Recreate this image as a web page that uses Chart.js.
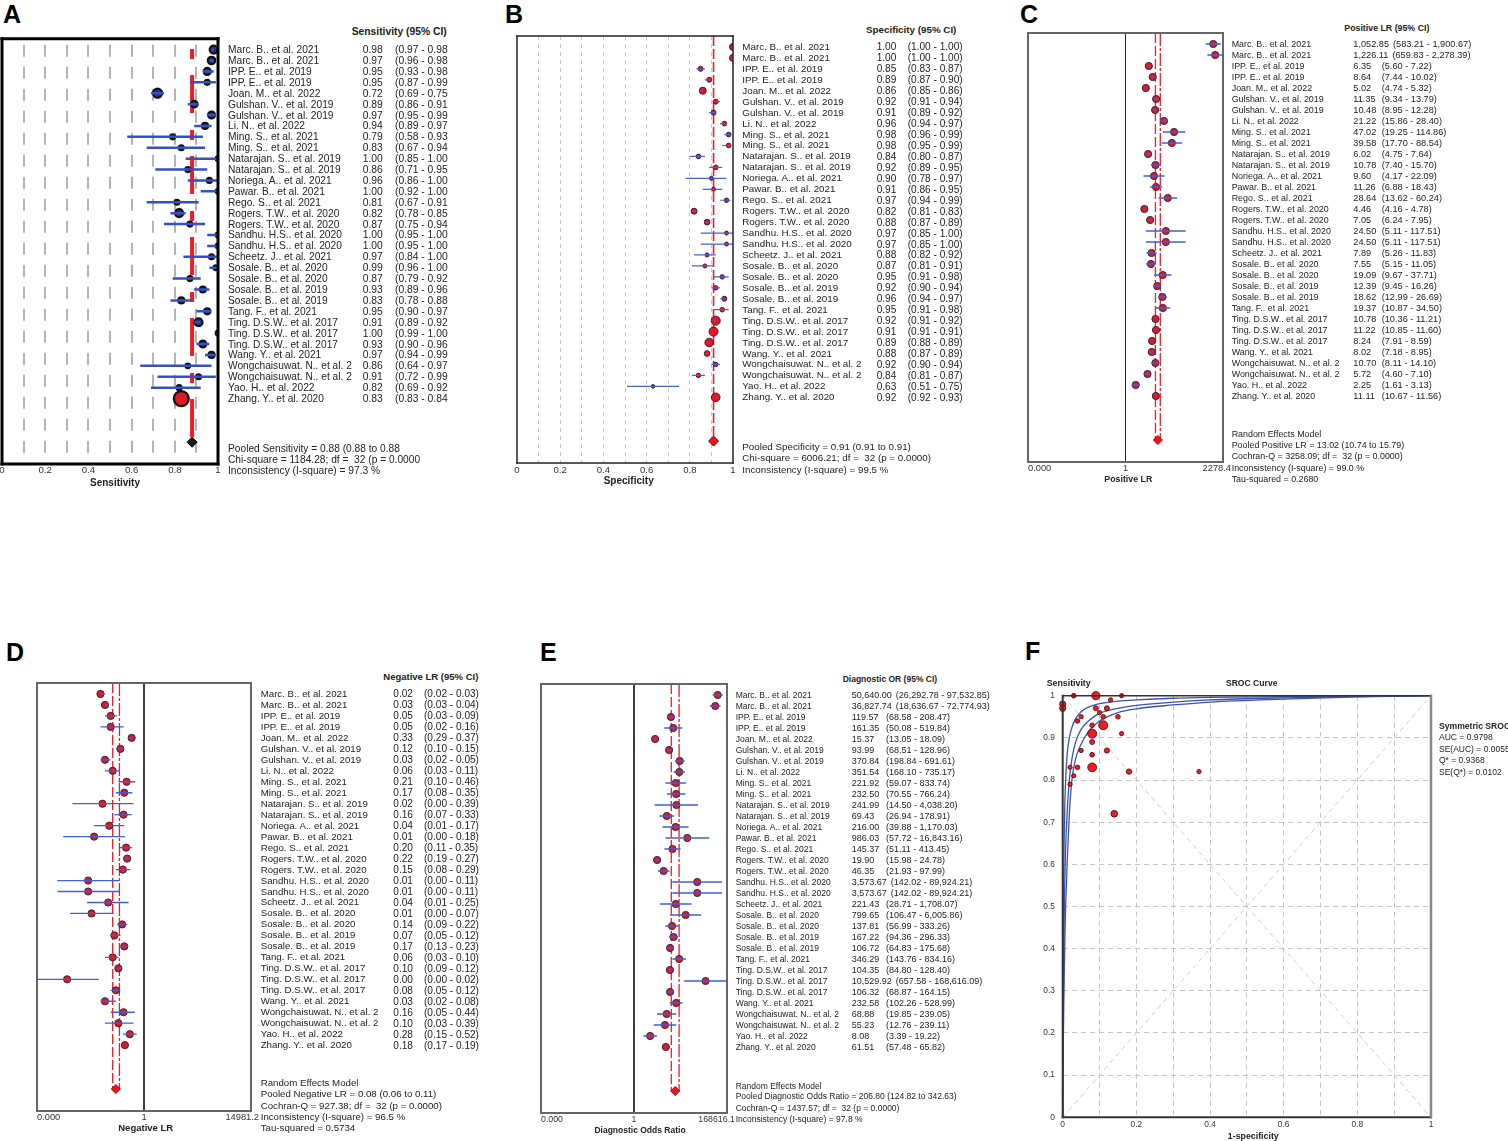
<!DOCTYPE html>
<html><head><meta charset="utf-8">
<script src="https://cdn.jsdelivr.net/npm/chart.js@4.4.1/dist/chart.umd.min.js"></script>
<style>
html,body{margin:0;padding:0;background:#fff;}
body{width:1508px;height:1141px;overflow:hidden;position:relative;font-family:"Liberation Sans",Arial,Helvetica,sans-serif;color:#222;}
canvas{position:absolute;}
.t{position:absolute;white-space:pre;}
</style></head><body>
<script>
// ---------------- DATA ----------------
const studies = ["Marc. B.. et al. 2021","Marc. B.. et al. 2021","IPP. E.. et al. 2019","IPP. E.. et al. 2019","Joan. M.. et al. 2022","Gulshan. V.. et al. 2019","Gulshan. V.. et al. 2019","Li. N.. et al. 2022","Ming. S.. et al. 2021","Ming. S.. et al. 2021","Natarajan. S.. et al. 2019","Natarajan. S.. et al. 2019","Noriega. A.. et al. 2021","Pawar. B.. et al. 2021","Rego. S.. et al. 2021","Rogers. T.W.. et al. 2020","Rogers. T.W.. et al. 2020","Sandhu. H.S.. et al. 2020","Sandhu. H.S.. et al. 2020","Scheetz. J.. et al. 2021","Sosale. B.. et al. 2020","Sosale. B.. et al. 2020","Sosale. B.. et al. 2019","Sosale. B.. et al. 2019","Tang. F.. et al. 2021","Ting. D.S.W.. et al. 2017","Ting. D.S.W.. et al. 2017","Ting. D.S.W.. et al. 2017","Wang. Y.. et al. 2021","Wongchaisuwat. N.. et al. 2","Wongchaisuwat. N.. et al. 2","Yao. H.. et al. 2022","Zhang. Y.. et al. 2020"];

const sens   = [0.98,0.97,0.95,0.95,0.72,0.89,0.97,0.94,0.79,0.83,1.00,0.86,0.96,1.00,0.81,0.82,0.87,1.00,1.00,0.97,0.99,0.87,0.93,0.83,0.95,0.91,1.00,0.93,0.97,0.86,0.91,0.82,0.83];
const sensLo = [0.97,0.96,0.93,0.87,0.69,0.86,0.95,0.89,0.58,0.67,0.85,0.71,0.86,0.92,0.67,0.78,0.75,0.95,0.95,0.84,0.96,0.79,0.89,0.78,0.90,0.89,0.99,0.90,0.94,0.64,0.72,0.69,0.83];
const sensHi = [0.98,0.98,0.98,0.99,0.75,0.91,0.99,0.97,0.93,0.94,1.00,0.95,1.00,1.00,0.91,0.85,0.94,1.00,1.00,1.00,1.00,0.92,0.96,0.88,0.97,0.92,1.00,0.96,0.99,0.97,0.99,0.92,0.84];

const spec   = [1.00,1.00,0.85,0.89,0.86,0.92,0.91,0.96,0.98,0.98,0.84,0.92,0.90,0.91,0.97,0.82,0.88,0.97,0.97,0.88,0.87,0.95,0.92,0.96,0.95,0.92,0.91,0.89,0.88,0.92,0.84,0.63,0.92];
const specLo = [1.00,1.00,0.83,0.87,0.85,0.91,0.89,0.94,0.96,0.95,0.80,0.89,0.78,0.86,0.94,0.81,0.87,0.85,0.85,0.82,0.81,0.91,0.90,0.94,0.91,0.91,0.91,0.88,0.87,0.90,0.81,0.51,0.92];
const specHi = [1.00,1.00,0.87,0.90,0.86,0.94,0.92,0.97,0.99,0.99,0.87,0.95,0.97,0.95,0.99,0.83,0.89,1.00,1.00,0.92,0.91,0.98,0.94,0.97,0.98,0.92,0.91,0.89,0.89,0.94,0.87,0.75,0.93];

const plr   = [1052.85,1226.11,6.35,8.64,5.02,11.35,10.48,21.22,47.02,39.58,6.02,10.78,9.60,11.26,28.64,4.46,7.05,24.50,24.50,7.89,7.55,19.09,12.39,18.62,19.37,10.78,11.22,8.24,8.02,10.70,5.72,2.25,11.11];
const plrLo = [583.21,659.83,5.60,7.44,4.74,9.34,8.95,15.86,19.25,17.70,4.75,7.40,4.17,6.88,13.62,4.16,6.24,5.11,5.11,5.26,5.15,9.67,9.45,12.99,10.87,10.36,10.85,7.91,7.18,8.11,4.60,1.61,10.67];
const plrHi = [1900.67,2278.39,7.22,10.02,5.32,13.79,12.28,28.40,114.86,88.54,7.64,15.70,22.09,18.43,60.24,4.78,7.95,117.51,117.51,11.83,11.05,37.71,16.26,26.69,34.50,11.21,11.60,8.59,8.95,14.10,7.10,3.13,11.56];

const nlr   = [0.02,0.03,0.05,0.05,0.33,0.12,0.03,0.06,0.21,0.17,0.024,0.16,0.044,0.0113,0.20,0.22,0.15,0.0066,0.0066,0.04,0.009,0.14,0.07,0.17,0.06,0.10,0.001,0.08,0.03,0.16,0.10,0.28,0.18];
const nlrLo = [0.02,0.03,0.03,0.02,0.29,0.10,0.02,0.03,0.10,0.08,0.0016,0.07,0.011,0.0007,0.11,0.19,0.08,0.00042,0.00042,0.006,0.0013,0.09,0.05,0.13,0.03,0.09,0.00003,0.05,0.02,0.05,0.03,0.15,0.17];
const nlrHi = [0.03,0.04,0.09,0.16,0.37,0.15,0.05,0.11,0.46,0.35,0.39,0.33,0.17,0.18,0.35,0.27,0.29,0.108,0.108,0.25,0.066,0.22,0.12,0.23,0.10,0.12,0.0174,0.12,0.08,0.44,0.39,0.52,0.19];

const dor   = [50640.00,36827.74,119.57,161.35,15.37,93.99,370.84,351.54,221.92,232.50,241.99,69.43,216.00,986.03,145.37,19.90,46.35,3573.67,3573.67,221.43,799.65,137.81,167.22,106.72,346.29,104.35,10529.92,106.32,232.58,68.88,55.23,8.08,61.51];
const dorLo = [26292.78,18636.67,68.58,50.08,13.05,68.51,198.84,168.10,59.07,70.55,14.50,26.94,39.88,57.72,51.11,15.98,21.93,142.02,142.02,28.71,106.47,56.99,94.36,64.83,143.76,84.80,657.58,68.87,102.26,19.85,12.76,3.39,57.48];
const dorHi = [97532.85,72774.93,208.47,519.84,18.09,128.96,691.61,735.17,833.74,766.24,4038.20,178.91,1170.03,16843.16,413.45,24.78,97.99,89924.21,89924.21,1708.07,6005.86,333.26,296.33,175.68,834.16,128.40,168616.09,164.15,528.99,239.05,239.11,19.22,65.82];

// relative study weights
const sensWeight = [4.5,4.0,3.6,1.8,5.5,3.3,3.6,2.7,1.8,1.8,1.5,1.8,1.8,1.5,1.8,4.5,1.8,1.5,1.5,1.8,1.5,1.8,2.7,2.7,2.7,4.5,1.5,3.6,2.7,1.5,1.8,1.8,10.9];
const specWeight = [3.6,3.6,1.8,1.8,3.6,1.8,1.8,1.5,1.5,1.5,1.5,1.5,0.9,0.9,1.3,2.7,2.4,0.9,0.9,0.9,0.9,1.3,1.3,1.8,1.5,5.5,5.5,5.1,2.4,1.3,1.3,0.5,5.1];
const rocWeight  = [2.9,2.9,1.5,1.5,3.4,1.8,1.8,1.5,1.2,1.2,1.2,1.2,1.2,1.2,1.2,2.2,2.0,1.2,1.2,1.2,1.2,1.2,1.5,1.5,1.2,5.5,4.8,5.5,1.8,1.2,1.2,1.2,5.3];

// pooled estimates [estimate, lower, upper]
const pooledSens = [0.88,0.88,0.88];
const pooledSpec = [0.91,0.91,0.91];
const pooledPlr  = [13.02,10.74,15.79];
const pooledNlr  = [0.08,0.06,0.11];
const pooledDor  = [206.80,124.82,342.63];

// axis limits / ticks
const linTicks = [0,0.1,0.2,0.3,0.4,0.5,0.6,0.7,0.8,0.9,1];
const plrAxisMax = 2278.4, nlrAxisMax = 14981.2, dorAxisMax = 168616.1;

// SROC curves
const srocFpr   = [0,0.001,0.002,0.004,0.006,0.008,0.012,0.018,0.025,0.035,0.05,0.07,0.1,0.15,0.2,0.3,0.4,0.6,0.8,1];
const srocUpper = [0,0.33,0.5,0.66,0.75,0.8,0.86,0.9,0.925,0.945,0.962,0.973,0.981,0.987,0.99,0.994,0.996,0.998,0.999,1];
const srocMid   = [0,0.18,0.3,0.47,0.57,0.64,0.72,0.8,0.85,0.89,0.92,0.94,0.958,0.97,0.977,0.985,0.99,0.995,0.998,1];
const srocLower = [0,0.12,0.2,0.33,0.43,0.5,0.6,0.72,0.8,0.85,0.885,0.915,0.94,0.96,0.969,0.978,0.985,0.992,0.997,1];
const chanceX = [0,1], chanceUp = [0,1], chanceDown = [1,0];

// ---------------- HELPERS ----------------
const FAM = '"Liberation Sans", Arial, Helvetica, sans-serif';
Chart.defaults.font.family = FAM;

function T(str, x, cy, fs, o){
  o = o || {};
  const d = document.createElement('div'); d.className = 't'; d.textContent = str;
  const L = Math.round(fs*1.25);
  d.style.left = x+'px'; d.style.top = (cy - L/2)+'px';
  d.style.fontSize = fs+'px'; d.style.lineHeight = L+'px';
  if (o.b) d.style.fontWeight = 'bold';
  if (o.c) d.style.color = o.c;
  if (o.a === 'c') d.style.transform = 'translateX(-50%)';
  if (o.a === 'r') d.style.transform = 'translateX(-100%)';
  document.body.appendChild(d); return d;
}
function rowText(x, cy, fs, val, ci, minW){
  const d = T('', x, cy, fs);
  const a = document.createElement('span'); a.textContent = val;
  a.style.cssText = 'display:inline-block;min-width:'+minW+'px;margin-right:4px;';
  const b = document.createElement('span'); b.textContent = ci;
  d.append(a, b);
}
function mk(l,t,w,h){
  const c = document.createElement('canvas');
  c.width = w; c.height = h;
  c.style.left = l+'px'; c.style.top = t+'px'; c.style.width = w+'px'; c.style.height = h+'px';
  document.body.appendChild(c); return c;
}
const f2 = v => v.toFixed(2);
const fc = v => v.toLocaleString('en-US',{minimumFractionDigits:2,maximumFractionDigits:2});
const radiusOf = w => 1.5 + 0.55*w;

const boxPlugin = {
  id:'boxp',
  afterDatasetsDraw(chart, args, o){
    const a = chart.chartArea, c = chart.ctx;
    c.save();
    const sides = o.sides || [{s:'l'},{s:'r'},{s:'t'},{s:'b'}];
    sides.forEach(sd => {
      c.beginPath(); c.strokeStyle = sd.color || o.color; c.lineWidth = sd.width || o.width; c.lineCap='square';
      if (sd.s==='l'){c.moveTo(a.left,a.top);c.lineTo(a.left,a.bottom);}
      if (sd.s==='r'){c.moveTo(a.right,a.top);c.lineTo(a.right,a.bottom);}
      if (sd.s==='t'){c.moveTo(a.left,a.top);c.lineTo(a.right,a.top);}
      if (sd.s==='b'){c.moveTo(a.left,a.bottom);c.lineTo(a.right,a.bottom);}
      c.stroke();
    });
    c.restore();
  }
};

function linX(axisH, gc, gw, dash, off, fs, pad){
  return {type:'linear', min:0, max:1,
    afterFit: s => { s.height = axisH; },
    afterBuildTicks: s => { s.ticks = linTicks.map(v => ({value:v})); },
    grid:{color: c => (c.tick && (c.tick.value===0 || c.tick.value===1)) ? 'rgba(0,0,0,0)' : gc, lineWidth:gw, drawTicks:false},
    border:{display:false, dash:dash, dashOffset:off},
    ticks:{autoSkip:false, maxRotation:0, padding:pad, color:'#333', font:{size:fs}, callback:(v,i)=> i%2===0 ? String(v) : ''}};
}
function logX(axisH, mx){
  return {type:'logarithmic', min:1/mx, max:mx,
    afterFit: s => { s.height = axisH; },
    ticks:{display:false}, grid:{display:false}, border:{display:false}};
}

function forest(o){
  const [l,t,r,b] = o.box, padL=16, padR=16, padT=8, axisH=22;
  const cl = l-padL, ct = t-padT, W = r-l+padL+padR, H = b-t+padT+axisH;
  const cv = mk(cl, ct, W, H);
  const ci = [];
  o.lo.forEach((v,i) => { ci.push({x:v,y:i},{x:o.hi[i],y:i},{x:NaN,y:NaN}); });
  const ds = [];
  if (o.nullLine) ds.push({type:'line', data:[{x:1,y:-1},{x:1,y:38}], borderColor:'#222', borderWidth:1, pointRadius:0, order:9});
  o.refLines.forEach((v,k) => ds.push({type:'line', data:[{x:v,y:o.refTop},{x:v,y:36}], borderColor:o.refColor, borderWidth:o.refWidth, borderDash:o.refDash[k%o.refDash.length], pointRadius:0, order:8}));
  ds.push({type:'scatter', data:o.est.map((v,i)=>({x:v,y:i})), pointRadius:o.radius, radius:o.radius,
    pointBackgroundColor:o.fill, backgroundColor:o.fill, pointBorderColor:o.border, borderColor:o.border, pointBorderWidth:o.bw, borderWidth:o.bw, order:2});
  ds.push({type:'line', data:ci, borderColor:o.ciColor, borderWidth:o.ciWidth, pointRadius:0, spanGaps:false, order:1});
  ds.push({type:'scatter', data:[{x:o.pooled[0], y:36}], pointStyle:'rectRot', pointRadius:o.dRadius, radius:o.dRadius,
    pointBackgroundColor:o.dFill, backgroundColor:o.dFill, pointBorderColor:o.dBorder, borderColor:o.dBorder, pointBorderWidth:1, borderWidth:1, order:0});
  const chart = new Chart(cv, {type:'scatter', data:{datasets:ds},
    options:{responsive:false, animation:false, events:[],
      layout:{padding:{left:padL, right:padR, top:padT, bottom:0}},
      plugins:{legend:{display:false}, tooltip:{enabled:false}, boxp:{color:o.boxColor, width:o.boxWidth}},
      scales:{x:o.x(axisH), y:{type:'linear', min:-1, max:38, reverse:true, display:false}}},
    plugins:[boxPlugin]});
  const Y = i => ct + chart.scales.y.getPixelForValue(i);
  const X = v => cl + chart.scales.x.getPixelForValue(v);
  // table
  T(o.header, o.hdr[0], o.hdr[1], o.hdrFs, {b:true});
  studies.forEach((s,i) => {
    T(s, o.nameX, Y(i), o.nameFs);
    rowText(o.valX, Y(i), o.numFs, o.fmt(o.est[i]), o.ciFmt(o.lo[i], o.hi[i]), o.ciX - o.valX - 4);
  });
  o.footer.forEach((s,k) => T(s, o.nameX, o.footY[k], o.nameFs));
  if (o.logTicks){
    const ty = o.tickY, fs = o.tickFs;
    T('0.000', l, ty, fs, {c:'#333'});
    T('1', X(1), ty, fs, {a:'c', c:'#333'});
    T(o.maxLabel, r+8, ty, fs, {a:'r', c:'#333'});
  }
  T(o.title, o.titlePos[0], o.titlePos[1], o.titleFs, {b:true, a:'c'});
  return chart;
}

// ---------------- PANEL LETTERS ----------------
[['A',3,5],['B',505,5],['C',1020,5],['D',6,643],['E',540,643],['F',1025,642]].forEach(p => {
  const d = document.createElement('div'); d.className='t'; d.textContent = p[0];
  d.style.cssText += 'left:'+p[1]+'px;top:'+(p[2]-3.3)+'px;font-size:25px;line-height:25px;font-weight:bold;color:#000;';
  document.body.appendChild(d);
});

// ---------------- A: Sensitivity ----------------
forest({box:[2,37,218,464], x: h => linX(h,'#b4b4b4',2,[12,10],16,9.6,1),
  est:sens, lo:sensLo, hi:sensHi, radius:sensWeight.map(radiusOf),
  fill:sensWeight.map(w => radiusOf(w) > 6 ? '#e8141e' : '#27357f'), border:'#111', bw:2.2,
  ciColor:'#3550c0', ciWidth:2.5,
  refLines:[pooledSens[0]], refTop:-0.05, refColor:'#ee1c25', refWidth:4, refDash:[[10,16,38,17]],
  pooled:pooledSens, dRadius:5, dFill:'#1a1a1a', dBorder:'#000',
  boxColor:'#000', boxWidth:3,
  header:'Sensitivity (95% CI)', hdr:[351.7,31.7], hdrFs:10.3,
  nameX:228, nameFs:10.2, valX:362.7, ciX:395, numFs:10.3,
  fmt:f2, ciFmt:(a,b)=>'('+f2(a)+' - '+f2(b),
  footer:['Pooled Sensitivity = '+f2(pooledSens[0])+' ('+f2(pooledSens[1])+' to '+f2(pooledSens[2]),
          'Chi-square = 1184.28; df =  32 (p = 0.0000',
          'Inconsistency (I-square) = 97.3 %'],
  footY:[448,459,470.7],
  title:'Sensitivity', titlePos:[115,482], titleFs:10});

// ---------------- B: Specificity ----------------
forest({box:[517,36,733,463], x: h => linX(h,'#c9c9c9',1,[4,4],0,9.6,2),
  est:spec, lo:specLo, hi:specHi, radius:specWeight.map(radiusOf),
  fill:'#e8141e', border:'#3a1a3a', bw:1,
  ciColor:'#4a62d0', ciWidth:1.2,
  refLines:[pooledSpec[0]], refTop:-1, refColor:'#ee1c25', refWidth:1.6, refDash:[[10,3]],
  pooled:pooledSpec, dRadius:5, dFill:'#e8141e', dBorder:'#600',
  boxColor:'#222', boxWidth:1.5,
  header:'Specificity (95% CI)', hdr:[866,30], hdrFs:9.8,
  nameX:742.3, nameFs:9.8, valX:876.7, ciX:907.7, numFs:10.1,
  fmt:f2, ciFmt:(a,b)=>'('+f2(a)+' - '+f2(b)+')',
  footer:['Pooled Specificity = '+f2(pooledSpec[0])+' ('+f2(pooledSpec[1])+' to '+f2(pooledSpec[2])+')',
          'Chi-square = 6006.21; df =  32 (p = 0.0000)',
          'Inconsistency (I-square) = 99.5 %'],
  footY:[447,458.3,470],
  title:'Specificity', titlePos:[628.7,480.7], titleFs:10});

// ---------------- C: Positive LR ----------------
const redDash = [[10,3],[13,2,3,2]];
forest({box:[1028,33,1223,462], x: h => logX(h, plrAxisMax),
  est:plr, lo:plrLo, hi:plrHi, radius:3.6,
  fill:'#e8141e', border:'#2a2a4a', bw:1,
  ciColor:'#4060d0', ciWidth:1.3, nullLine:true,
  refLines:[pooledPlr[1], pooledPlr[2]], refTop:-1, refColor:'#ee1c25', refWidth:1.3, refDash:redDash,
  pooled:pooledPlr, dRadius:4.5, dFill:'#e8141e', dBorder:'#a00',
  boxColor:'#666', boxWidth:2,
  header:'Positive LR (95% CI)', hdr:[1344.3,28.3], hdrFs:8.8,
  nameX:1231.7, nameFs:8.9, valX:1353.3, ciX:1381.7, numFs:9.2,
  fmt:fc, ciFmt:(a,b)=>'('+fc(a)+' - '+fc(b)+')',
  footer:['Random Effects Model',
          'Pooled Positive LR = '+f2(pooledPlr[0])+' ('+f2(pooledPlr[1])+' to '+f2(pooledPlr[2])+')',
          'Cochran-Q = 3258.09; df =  32 (p = 0.0000)',
          'Inconsistency (I-square) = 99.0 %',
          'Tau-squared = 0.2680'],
  footY:[434.3,445.3,456.7,468,479],
  logTicks:true, tickY:468.3, tickFs:9.3, maxLabel:String(plrAxisMax),
  title:'Positive LR', titlePos:[1128.3,479], titleFs:8.8});

// ---------------- D: Negative LR ----------------
forest({box:[37,683,251,1111], x: h => logX(h, nlrAxisMax),
  est:nlr, lo:nlrLo, hi:nlrHi, radius:3.6,
  fill:'#e8141e', border:'#2a2a4a', bw:1,
  ciColor:'#4060d0', ciWidth:1.3, nullLine:true,
  refLines:[pooledNlr[1], pooledNlr[2]], refTop:-1, refColor:'#ee1c25', refWidth:1.3, refDash:redDash,
  pooled:pooledNlr, dRadius:4.5, dFill:'#e8141e', dBorder:'#a00',
  boxColor:'#666', boxWidth:2,
  header:'Negative LR (95% CI)', hdr:[383.3,677.3], hdrFs:9.5,
  nameX:260.7, nameFs:9.7, valX:393.3, ciX:424, numFs:10.1,
  fmt:f2, ciFmt:(a,b)=>'('+f2(a)+' - '+f2(b)+')',
  footer:['Random Effects Model',
          'Pooled Negative LR = '+f2(pooledNlr[0])+' ('+f2(pooledNlr[1])+' to '+f2(pooledNlr[2])+')',
          'Cochran-Q = 927.38; df =  32 (p = 0.0000)',
          'Inconsistency (I-square) = 96.5 %',
          'Tau-squared = 0.5734'],
  footY:[1083.3,1094.3,1105.7,1117,1128],
  logTicks:true, tickY:1116.7, tickFs:9.3, maxLabel:String(nlrAxisMax),
  title:'Negative LR', titlePos:[145.7,1127.7], titleFs:9.5});

// ---------------- E: Diagnostic OR ----------------
forest({box:[541,684,727,1113], x: h => logX(h, dorAxisMax),
  est:dor, lo:dorLo, hi:dorHi, radius:3.6,
  fill:'#e8141e', border:'#2a2a4a', bw:1,
  ciColor:'#4060d0', ciWidth:1.3, nullLine:true,
  refLines:[pooledDor[1], pooledDor[2]], refTop:-1, refColor:'#ee1c25', refWidth:1.3, refDash:redDash,
  pooled:pooledDor, dRadius:4.5, dFill:'#e8141e', dBorder:'#a00',
  boxColor:'#666', boxWidth:2,
  header:'Diagnostic OR (95% CI)', hdr:[842.7,679.3], hdrFs:8.5,
  nameX:735.7, nameFs:8.5, valX:851.7, ciX:886, numFs:9,
  fmt:fc, ciFmt:(a,b)=>'('+fc(a)+' - '+fc(b)+')',
  footer:['Random Effects Model',
          'Pooled Diagnostic Odds Ratio = '+f2(pooledDor[0])+' ('+f2(pooledDor[1])+' to '+f2(pooledDor[2])+')',
          'Cochran-Q = 1437.57; df =  32 (p = 0.0000)',
          'Inconsistency (I-square) = 97.8 %'],
  footY:[1086,1096.7,1108,1119.3],
  logTicks:true, tickY:1119.3, tickFs:8.8, maxLabel:String(dorAxisMax),
  title:'Diagnostic Odds Ratio', titlePos:[640,1130], titleFs:8.5});

// ---------------- F: SROC ----------------
(function(){
  const cl=1010, ct=676, W=440, H=460;
  const cv = mk(cl, ct, W, H);
  const curve = (ys, col) => ({type:'line', data:srocFpr.map((x,i)=>({x:x, y:ys[i]})), borderColor:col, borderWidth:1.3,
    pointRadius:0, cubicInterpolationMode:'monotone', order:3});
  const gridCol = c => (c.tick && (c.tick.value===0 || c.tick.value===1)) ? 'rgba(0,0,0,0)' : '#c4c4c4';
  new Chart(cv, {type:'scatter', data:{datasets:[
      {type:'line', data:chanceX.map((x,i)=>({x:x,y:chanceUp[i]})), borderColor:'#cfcfcf', borderWidth:1, borderDash:[5,4], pointRadius:0, order:7},
      {type:'line', data:chanceX.map((x,i)=>({x:x,y:chanceDown[i]})), borderColor:'#cfcfcf', borderWidth:1, borderDash:[5,4], pointRadius:0, order:7},
      curve(srocUpper,'#3b50b5'), curve(srocMid,'#3b50b5'), curve(srocLower,'#3b50b5'),
      {type:'scatter', data:spec.map((s,i)=>({x:1-s, y:sens[i]})), pointRadius:rocWeight.map(radiusOf), radius:rocWeight.map(radiusOf),
        pointBackgroundColor:'#ee1c25', backgroundColor:'#ee1c25', pointBorderColor:'#3a0a0a', borderColor:'#3a0a0a', pointBorderWidth:0.8, borderWidth:0.8, clip:false, order:0}
    ]},
    options:{responsive:false, animation:false, events:[],
      layout:{padding:{left:0, top:19.7, right:19, bottom:0}},
      plugins:{legend:{display:false}, tooltip:{enabled:false},
        boxp:{color:'#333', width:1.5, sides:[{s:'l',width:2},{s:'b',width:2},{s:'t',width:1.5},{s:'r',color:'#888',width:2.5}]}},
      scales:{
        x:{type:'linear', min:0, max:1, afterFit:s=>{s.height=18.7;},
          afterBuildTicks:s=>{s.ticks=linTicks.map(v=>({value:v}));},
          grid:{color:gridCol, lineWidth:1, drawTicks:false}, border:{display:false, dash:[5,4]},
          ticks:{autoSkip:false, maxRotation:0, padding:2, color:'#333', font:{size:8.4}, callback:(v,i)=> i%2===0 ? String(v) : ''}},
        y:{type:'linear', min:0, max:1, afterFit:s=>{s.width=52.7;},
          afterBuildTicks:s=>{s.ticks=linTicks.map(v=>({value:v}));},
          grid:{color:gridCol, lineWidth:1, drawTicks:false}, border:{display:false, dash:[5,4]},
          ticks:{autoSkip:false, padding:7.7, color:'#333', font:{size:8.4}, callback:v=> String(v)}}
      }},
    plugins:[boxPlugin]});
  T('Sensitivity', 1046.7, 683.3, 8.8, {b:true});
  T('SROC Curve', 1251.7, 683.3, 8.6, {b:true, a:'c'});
  T('1-specificity', 1253.3, 1136.2, 8.8, {b:true, a:'c'});
  T('Symmetric SROC', 1439, 726.7, 8.6, {b:true});
  T('AUC = 0.9798', 1439, 737.7, 8.5);
  T('SE(AUC) = 0.0055', 1439, 749, 8.5);
  T('Q* = 0.9368', 1439, 760.7, 8.5);
  T('SE(Q*) = 0.0102', 1439, 772, 8.5);
})();
</script>
</body></html>
